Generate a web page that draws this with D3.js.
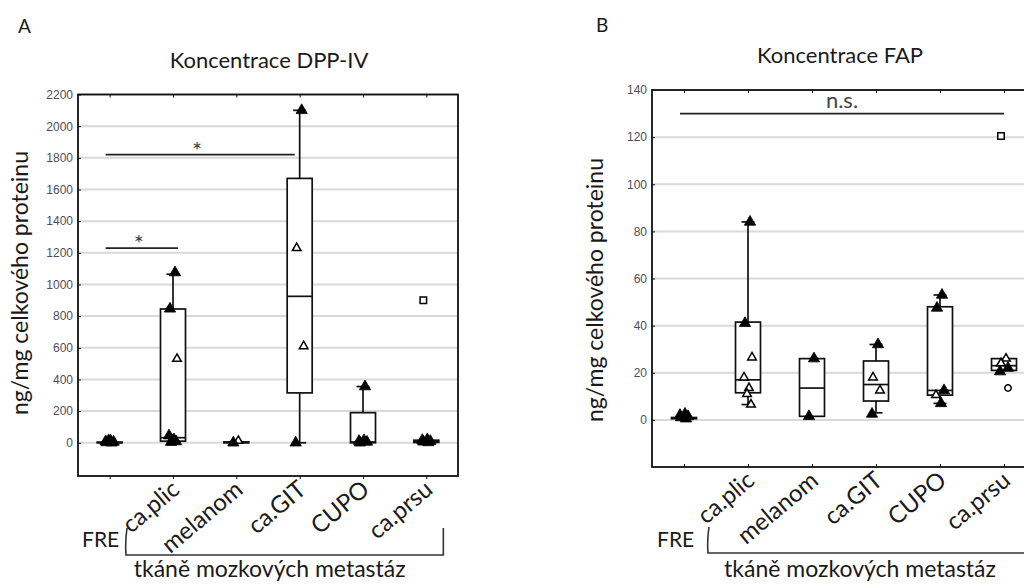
<!DOCTYPE html>
<html><head><meta charset="utf-8">
<script src="https://cdn.jsdelivr.net/npm/d3@7"></script>
<style>body{margin:0;background:#fff}svg{display:block}</style>
</head><body>
<svg id="c" width="1024" height="584"></svg>
<script>
// ---------- data ----------
const categories = ["FRE","ca.plic","melanom","ca.GIT","CUPO","ca.prsu"];
const groupLabels = ["ca.plic","melanom","ca.GIT","CUPO","ca.prsu"];
const groupName = "tkáně mozkových metastáz";
const controlName = "FRE";
const yAxisTitle = "ng/mg celkového proteinu";

// Panel A: DPP-IV
const dppTitle = "Koncentrace DPP-IV";
const dppTicks = [0,200,400,600,800,1000,1200,1400,1600,1800,2000,2200];
const dppBoxLow    = [0,   10, 0,  315,  0,   2];
const dppBoxHigh   = [4,  845, 5, 1670, 190, 16];
const dppMedian    = [1,   32, 2,  925,   5,  8];
const dppWhiskLow  = [0,   10, 0,    0,   0,  2];
const dppWhiskHigh = [14, 1065, 5, 2100, 355, 16];
const dppPointCat  = ["FRE","FRE","FRE","FRE","FRE","FRE",
  "ca.plic","ca.plic","ca.plic","ca.plic","ca.plic","ca.plic","ca.plic","ca.plic",
  "melanom","melanom",
  "ca.GIT","ca.GIT","ca.GIT","ca.GIT",
  "CUPO","CUPO","CUPO","CUPO","CUPO",
  "ca.prsu","ca.prsu","ca.prsu","ca.prsu","ca.prsu","ca.prsu"];
const dppPointVal  = [0,2,5,8,12,15,
  1075,846,530,45,20,12,8,4,
  12,0,
  2100,1230,610,0,
  355,0,5,10,15,
  2,6,10,16,20,900];
const dppPointKind = ["f","f","f","f","f","f",
  "f","f","o","f","f","f","f","f",
  "o","f",
  "f","o","o","f",
  "f","f","f","f","f",
  "f","f","f","f","f","s"];
const dppSigFrom  = ["FRE","FRE"];
const dppSigTo    = ["ca.plic","ca.GIT"];
const dppSigLevel = [1230,1820];
const dppSigText  = ["*","*"];

// Panel B: FAP
const fapTitle = "Koncentrace FAP";
const fapTicks = [0,20,40,60,80,100,120,140];
const fapBoxLow    = [0.5, 11.5, 1.5,  8, 10.5, 21];
const fapBoxHigh   = [1,   41.5, 26,  25, 48,   26];
const fapMedian    = [0.8, 17,   13.5, 15, 12.5, 23];
const fapWhiskLow  = [0.5, 6.5,  1.5,  3,  7,   21];
const fapWhiskHigh = [1,   84,   26,  32, 53,   26];
const fapPointCat  = ["FRE","FRE","FRE","FRE","FRE",
  "ca.plic","ca.plic","ca.plic","ca.plic","ca.plic","ca.plic","ca.plic",
  "melanom","melanom",
  "ca.GIT","ca.GIT","ca.GIT","ca.GIT",
  "CUPO","CUPO","CUPO","CUPO","CUPO",
  "ca.prsu","ca.prsu","ca.prsu","ca.prsu","ca.prsu","ca.prsu"];
const fapPointVal  = [0.5,1,1.5,2,2.5,
  84,41,26.5,18,13.5,11,6.5,
  26,1.5,
  32,18,12.5,2.5,
  53,47.5,12.5,10.5,7,
  26,24,22,20.5,13.5,120.5];
const fapPointKind = ["f","f","f","f","f",
  "f","f","o","o","o","o","o",
  "f","f",
  "f","o","o","f",
  "f","f","f","o","f",
  "o","o","f","f","c","s"];
const fapSigFrom  = ["FRE"];
const fapSigTo    = ["ca.prsu"];
const fapSigLevel = [130];
const fapSigText  = ["n.s."];

// ---------- drawing ----------
const svg = d3.select("#c");
const FONT = "Lato, 'Open Sans', sans-serif";
const jitter = [2,-3,4,-4,1,-1,3,-2];

function panel(o){
  const g = svg.append("g");
  const x = d3.scalePoint().domain(categories).range([o.left,o.right]).padding(0.5);
  const y = d3.scaleLinear().domain(o.yDomain).range([o.bottom,o.top]);
  const bw = 25, cap = 13;

  // gridlines
  g.append("g").selectAll("line").data(o.ticks).join("line")
    .attr("x1",o.left).attr("x2",o.right)
    .attr("y1",d=>y(d)).attr("y2",d=>y(d))
    .attr("stroke","#d9d9d9").attr("stroke-width",2);

  // whiskers + boxes
  categories.forEach((c,i)=>{
    const cx = x(c);
    const gg = g.append("g").attr("stroke","#111").attr("stroke-width",1.7).attr("fill","none");
    if (o.whiskHigh[i] > o.boxHigh[i]) {
      gg.append("line").attr("x1",cx).attr("x2",cx).attr("y1",y(o.boxHigh[i])).attr("y2",y(o.whiskHigh[i]));
      gg.append("line").attr("x1",cx-cap/2).attr("x2",cx+cap/2).attr("y1",y(o.whiskHigh[i])).attr("y2",y(o.whiskHigh[i]));
    }
    if (o.whiskLow[i] < o.boxLow[i]) {
      gg.append("line").attr("x1",cx).attr("x2",cx).attr("y1",y(o.boxLow[i])).attr("y2",y(o.whiskLow[i]));
      gg.append("line").attr("x1",cx-cap/2).attr("x2",cx+cap/2).attr("y1",y(o.whiskLow[i])).attr("y2",y(o.whiskLow[i]));
    }
    const top = y(o.boxHigh[i]), bot = y(o.boxLow[i]);
    gg.append("rect").attr("x",cx-bw/2).attr("y",top).attr("width",bw).attr("height",Math.max(bot-top,0.5))
      .attr("fill","#fff");
    gg.append("line").attr("x1",cx-bw/2).attr("x2",cx+bw/2).attr("y1",y(o.median[i])).attr("y2",y(o.median[i]));
  });

  // points
  const counter = {};
  const pts = o.pCat.map((c,i)=>{
    counter[c] = (counter[c]||0);
    const k = counter[c]++;
    const kind = o.pKind[i];
    return {c, v:o.pVal[i], kind, dx: (kind==="s") ? -3 : (kind==="c" ? 4 : jitter[k%jitter.length])};
  });
  const sym = {f:d3.symbolTriangle, o:d3.symbolTriangle, s:d3.symbolSquare, c:d3.symbolCircle};
  const size = {f:55, o:32, s:42, c:32};
  g.append("g").selectAll("path").data(pts).join("path")
    .attr("transform",d=>`translate(${x(d.c)+d.dx},${y(d.v)})`)
    .attr("d",d=>d3.symbol(sym[d.kind]).size(size[d.kind])())
    .attr("fill",d=>d.kind==="f"?"#000":"#fff")
    .attr("stroke","#000").attr("stroke-width",d=>d.kind==="f"?0.8:1.5);

  // significance
  o.sigFrom.forEach((f,i)=>{
    const x1 = x(f)-4, x2 = x(o.sigTo[i]) + (o.sigText[i]==="*" ? (i===0?5:-5) : 0);
    const yy = y(o.sigLevel[i]);
    g.append("line").attr("x1",x1).attr("x2",x2).attr("y1",yy).attr("y2",yy)
      .attr("stroke","#222").attr("stroke-width",1.8);
    const star = o.sigText[i]==="*";
    g.append("text").attr("x",(x1+x2)/2-(star?3:0)).attr("y",star?yy+4:yy-6)
      .attr("text-anchor","middle").attr("font-family",FONT)
      .attr("font-size",star?24:22).attr("fill","#444").text(o.sigText[i]);
  });

  // frame
  g.append("rect").attr("x",o.left).attr("y",o.top).attr("width",o.right-o.left).attr("height",o.bottom-o.top)
    .attr("fill","none").attr("stroke","#111").attr("stroke-width",1.8);

  // y axis
  const ya = g.append("g").attr("transform",`translate(${o.left},0)`)
    .call(d3.axisLeft(y).tickValues(o.ticks).tickFormat(d3.format("d")).tickSizeInner(-3).tickSizeOuter(0).tickPadding(5));
  ya.select(".domain").remove();
  ya.selectAll("text").attr("font-family","'Liberation Sans', Arial, sans-serif").attr("font-size",12).attr("fill","#4d4d5a");
  ya.selectAll("line").attr("stroke","#111");

  // top & bottom ticks
  const ta = g.append("g").attr("transform",`translate(0,${o.top})`)
    .call(d3.axisTop(x).tickSizeInner(-3).tickSizeOuter(0).tickFormat(""));
  ta.select(".domain").remove(); ta.selectAll("line").attr("stroke","#111");
  const ba = g.append("g").attr("transform",`translate(0,${o.bottom})`)
    .call(d3.axisBottom(x).tickSizeInner(o.bottomTickOut?3:-3).tickSizeOuter(0).tickFormat(""));
  ba.select(".domain").remove(); ba.selectAll("line").attr("stroke","#111");

  // x category labels (rotated)
  g.append("g").selectAll("text").data(groupLabels).join("text")
    .attr("transform",d=>`translate(${x(d)+8},${o.bottom+16}) rotate(-40)`)
    .attr("text-anchor","end").attr("font-family",FONT).attr("font-size",24).attr("fill","#1a1a1a")
    .text(d=>d);

  // control label
  g.append("text").attr("x",o.freX).attr("y",547).attr("font-family",FONT).attr("font-size",21)
    .attr("fill","#1a1a1a").text(controlName);

  // bracket
  const bl = x(groupLabels[0]) + o.brLeft, br = x(groupLabels[groupLabels.length-1]) + o.brRight;
  g.append("path").attr("d",`M${bl+1},${o.brTop} Q${bl-1},${(o.brTop+o.brBot)/2} ${bl},${o.brBot} L${br},${o.brBot} L${br},${o.brTop}`)
    .attr("fill","none").attr("stroke","#333").attr("stroke-width",1.6);
  g.append("text").attr("x",(bl+Math.min(br,1024))/2 + o.groupShift).attr("y",577).attr("text-anchor","middle")
    .attr("font-family",FONT).attr("font-size",23).attr("fill","#1a1a1a").text(groupName);

  // titles
  g.append("text").attr("x",o.letterX).attr("y",o.letterY).attr("font-family",FONT).attr("font-size",19)
    .attr("fill","#1a1a1a").text(o.letter);
  g.append("text").attr("x",o.titleX).attr("y",o.titleY).attr("text-anchor","middle").attr("font-family",FONT)
    .attr("font-size",22).attr("fill","#1a1a1a").text(o.title);
  g.append("text").attr("transform",`translate(${o.ylabX},${o.ylabY}) rotate(-90)`).attr("text-anchor","middle")
    .attr("font-family",FONT).attr("font-size",23).attr("fill","#1a1a1a").text(yAxisTitle);
}

panel({left:78,right:458,top:94.5,bottom:476,yDomain:[-210,2200],ticks:dppTicks,
  boxLow:dppBoxLow,boxHigh:dppBoxHigh,median:dppMedian,whiskLow:dppWhiskLow,whiskHigh:dppWhiskHigh,
  pCat:dppPointCat,pVal:dppPointVal,pKind:dppPointKind,
  sigFrom:dppSigFrom,sigTo:dppSigTo,sigLevel:dppSigLevel,sigText:dppSigText,
  bottomTickOut:true,freX:82,brLeft:-47,brRight:17,brTop:528,brBot:555,groupShift:-15,
  letter:"A",letterX:18,letterY:33,title:dppTitle,titleX:269,titleY:68,ylabX:28,ylabY:283});

panel({left:652,right:1036,top:90,bottom:467,yDomain:[-20,140],ticks:fapTicks,
  boxLow:fapBoxLow,boxHigh:fapBoxHigh,median:fapMedian,whiskLow:fapWhiskLow,whiskHigh:fapWhiskHigh,
  pCat:fapPointCat,pVal:fapPointVal,pKind:fapPointKind,
  sigFrom:fapSigFrom,sigTo:fapSigTo,sigLevel:fapSigLevel,sigText:fapSigText,
  bottomTickOut:false,freX:657,brLeft:-40,brRight:30,brTop:527,brBot:553,groupShift:-6,
  letter:"B",letterX:596,letterY:32,title:fapTitle,titleX:840,titleY:63,ylabX:603,ylabY:290});
</script>
</body></html>
